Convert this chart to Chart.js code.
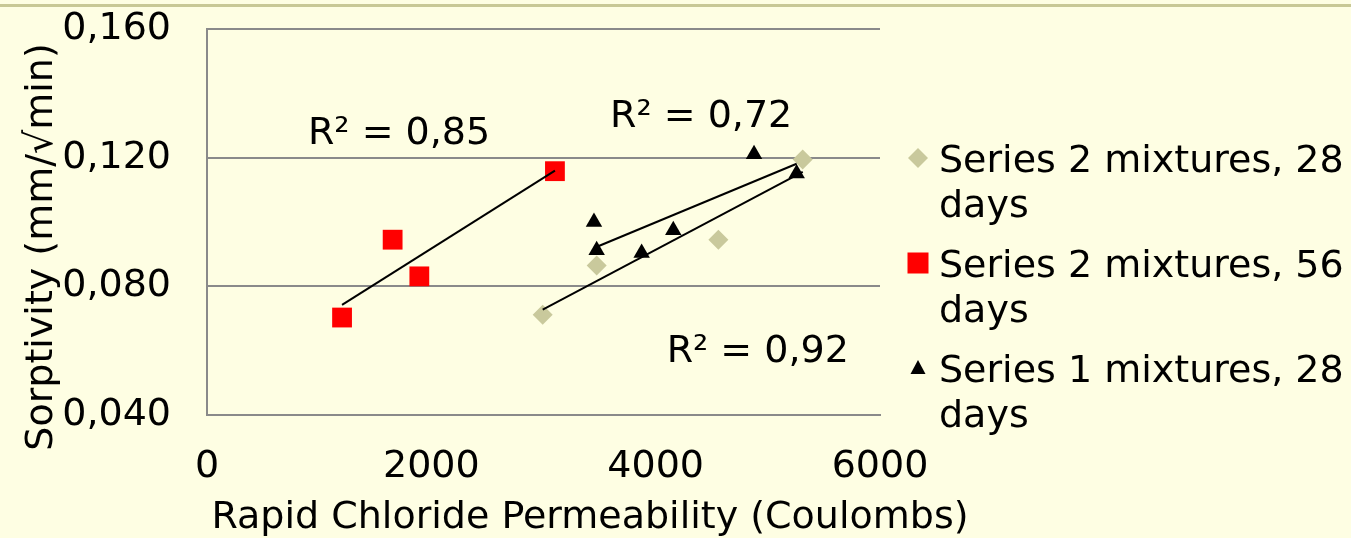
<!DOCTYPE html>
<html>
<head>
<meta charset="utf-8">
<style>
  html, body { margin: 0; padding: 0; background: #FEFEE3; }
  #wrap { width: 1351px; height: 538px; position: relative; }
</style>
</head>
<body>
<div id="wrap"><canvas id="chart" width="1351" height="538"></canvas></div>
<script src="https://cdn.jsdelivr.net/npm/chart.js"></script>
<script>
// ---- data ----
const xTicks = [0, 2000, 4000, 6000];
const yTicks = [0.04, 0.08, 0.12, 0.16];

const seriesNames = ['Series 2 mixtures, 28 days', 'Series 2 mixtures, 56 days', 'Series 1 mixtures, 28 days'];

const s2d28X = [2993, 3474, 4559, 5311];
const s2d28Y = [0.0712, 0.0865, 0.0945, 0.1194];

const s2d56X = [1204, 1655, 1893, 3102];
const s2d56Y = [0.0703, 0.0945, 0.0831, 0.1158];

const s1d28X = [3450, 3474, 3875, 4157, 4877, 5257];
const s1d28Y = [0.1000, 0.0912, 0.0904, 0.0974, 0.1211, 0.1151];

const r2Values = [0.92, 0.85, 0.72];

// ---- styling ----
const FONT = '"DejaVu Sans", Verdana, sans-serif';
const FSIZE = 38;
const BG = '#FEFEE3';
const GRID = '#8A8A8A';
const KHAKI = '#C9C99C';
const RED = '#FF0000';

function pts(xs, ys) {
    return xs.map((x, i) => ({ x: x, y: ys[i] }));
}

// least squares trend line across the x range of a series
function trend(xs, ys) {
    const n = xs.length;
    const mx = xs.reduce((a, b) => a + b, 0) / n;
    const my = ys.reduce((a, b) => a + b, 0) / n;
    let sxy = 0, sxx = 0;
    for (let i = 0; i < n; i++) {
        sxy += (xs[i] - mx) * (ys[i] - my);
        sxx += (xs[i] - mx) * (xs[i] - mx);
    }
    const b = sxy / sxx;
    const a = my - b * mx;
    const x0 = Math.min(...xs), x1 = Math.max(...xs);
    return [{ x: x0, y: a + b * x0 }, { x: x1, y: a + b * x1 }];
}

function trendSet(xs, ys) {
    return {
        type: 'line',
        data: trend(xs, ys),
        borderColor: '#000000',
        borderWidth: 2,
        pointRadius: 0,
        fill: false,
        order: 0
    };
}

// R² label anchors (left/baseline, in data units)
const r2Anchors = [
    { x: 4098, y: 0.0564 },
    { x: 900, y: 0.1244 },
    { x: 3593, y: 0.1296 }
];

const decorPlugin = {
    id: 'decor',
    beforeDraw(chart) {
        const ctx = chart.ctx;
        ctx.save();
        ctx.fillStyle = BG;
        ctx.fillRect(0, 0, chart.width, chart.height);
        ctx.fillStyle = '#C8C896';
        ctx.fillRect(0, 4, chart.width, 3);
        ctx.restore();
    },
    afterDraw(chart) {
        const ctx = chart.ctx;
        const xs = chart.scales.x, ys = chart.scales.y;
        ctx.save();
        ctx.fillStyle = '#000000';
        ctx.font = FSIZE + 'px ' + FONT;

        // R² labels
        ctx.textAlign = 'left';
        ctx.textBaseline = 'alphabetic';
        r2Anchors.forEach((p, i) => {
            const txt = 'R\u00B2 = ' + r2Values[i].toFixed(2).replace('.', ',');
            ctx.fillText(txt, xs.getPixelForValue(p.x), ys.getPixelForValue(p.y));
        });

        // axis titles
        ctx.textAlign = 'center';
        ctx.fillText('Rapid Chloride Permeability (Coulombs)', 590, 528);
        ctx.save();
        ctx.translate(52, 247);
        ctx.rotate(-Math.PI / 2);
        ctx.fillText('Sorptivity (mm/\u221Amin)', 0, 0);
        ctx.restore();

        // legend
        const lx = 918, tx = 939;
        const rows = [172, 277, 382];
        ctx.textAlign = 'left';
        rows.forEach((by, i) => {
            const cy = by - 14;
            if (i === 0) {
                ctx.fillStyle = KHAKI;
                ctx.beginPath();
                ctx.moveTo(lx, cy - 10);
                ctx.lineTo(lx + 10, cy);
                ctx.lineTo(lx, cy + 10);
                ctx.lineTo(lx - 10, cy);
                ctx.closePath();
                ctx.fill();
            } else if (i === 1) {
                ctx.fillStyle = RED;
                ctx.fillRect(lx - 10.5, cy - 10.5, 21, 21);
            } else {
                ctx.fillStyle = '#000000';
                ctx.beginPath();
                ctx.moveTo(lx, cy - 8);
                ctx.lineTo(lx + 7.5, cy + 6);
                ctx.lineTo(lx - 7.5, cy + 6);
                ctx.closePath();
                ctx.fill();
            }
            const name = seriesNames[i];
            const cut = name.lastIndexOf(' ');
            ctx.fillStyle = '#000000';
            ctx.fillText(name.slice(0, cut), tx, by);
            ctx.fillText(name.slice(cut + 1), tx, by + 45);
        });
        ctx.restore();
    }
};

Chart.defaults.font.family = FONT;
Chart.defaults.font.size = FSIZE;
Chart.defaults.color = '#000000';

new Chart(document.getElementById('chart'), {
    type: 'scatter',
    data: {
        datasets: [
            {
                label: seriesNames[0],
                data: pts(s2d28X, s2d28Y),
                pointStyle: 'rectRot',
                pointRadius: 10,
                backgroundColor: KHAKI,
                borderWidth: 0,
                order: 1
            },
            {
                label: seriesNames[1],
                data: pts(s2d56X, s2d56Y),
                pointStyle: 'rect',
                pointRadius: 14,
                backgroundColor: RED,
                borderWidth: 0,
                order: 1
            },
            {
                label: seriesNames[2],
                data: pts(s1d28X, s1d28Y),
                pointStyle: 'triangle',
                pointRadius: 9.5,
                backgroundColor: '#000000',
                borderWidth: 0,
                order: 1
            },
            trendSet(s2d28X, s2d28Y),
            trendSet(s2d56X, s2d56Y),
            trendSet(s1d28X, s1d28Y)
        ]
    },
    options: {
        responsive: false,
        animation: false,
        events: [],
        layout: { padding: { top: 29, right: 471, bottom: 0, left: 0 } },
        plugins: {
            legend: { display: false },
            tooltip: { enabled: false }
        },
        scales: {
            x: {
                type: 'linear',
                min: 0,
                max: 6000,
                afterBuildTicks: s => { s.ticks = xTicks.map(v => ({ value: v })); },
                afterFit: s => {
                    s.height = 123;
                    s.paddingLeft = 0;
                    s.paddingRight = 0;
                },
                grid: { display: false, drawTicks: false },
                border: { display: true, color: GRID, width: 2 },
                ticks: {
                    padding: 29,
                    maxRotation: 0,
                    callback: v => String(v)
                }
            },
            y: {
                type: 'linear',
                min: 0.04,
                max: 0.16,
                afterBuildTicks: s => { s.ticks = yTicks.map(v => ({ value: v })); },
                afterFit: s => {
                    s.width = 207;
                    s.paddingTop = 0;
                    s.paddingBottom = 0;
                },
                grid: { color: GRID, lineWidth: 2, drawTicks: false },
                border: { display: true, color: GRID, width: 2 },
                ticks: {
                    padding: 36,
                    callback: v => v.toFixed(3).replace('.', ',')
                }
            }
        }
    },
    plugins: [decorPlugin]
});
</script>
</body>
</html>
